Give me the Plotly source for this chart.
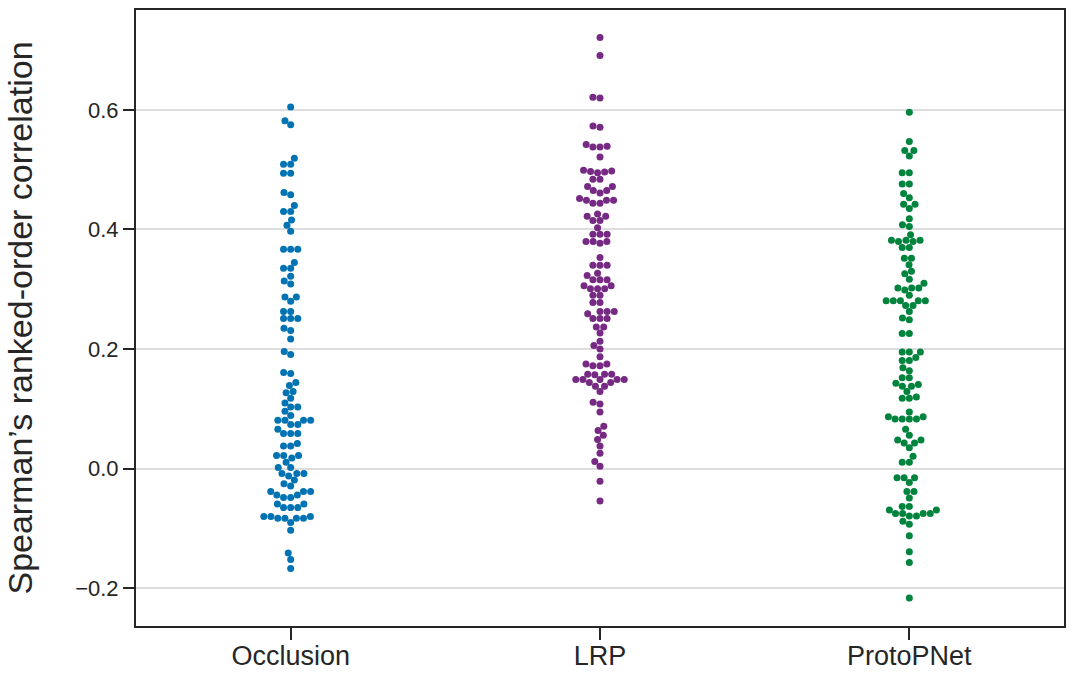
import numpy as np
import plotly.graph_objects as go

categories = ["Occlusion", "LRP", "ProtoPNet"]

occlusion = [0.605, 0.582, 0.575, 0.519, 0.509, 0.509, 0.494, 0.494, 0.462, 0.458,
             0.440, 0.430, 0.430, 0.416, 0.407, 0.397, 0.367, 0.367, 0.367, 0.345,
             0.335, 0.335, 0.322, 0.314, 0.309, 0.287, 0.287, 0.280, 0.263, 0.263,
             0.251, 0.251, 0.251, 0.235, 0.231, 0.217, 0.196, 0.191, 0.161, 0.159,
             0.144, 0.139, 0.129, 0.127, 0.118, 0.110, 0.103, 0.103, 0.096, 0.089,
             0.081, 0.081, 0.081, 0.081, 0.074, 0.074, 0.066, 0.059, 0.059, 0.059,
             0.042, 0.038, 0.038, 0.022, 0.022, 0.022, 0.018, 0.011, 0.002, 0.002,
             -0.008, -0.008, -0.008, -0.012, -0.019, -0.025, -0.029, -0.038, -0.038, -0.038,
             -0.044, -0.044, -0.048, -0.048, -0.059, -0.059, -0.065, -0.065, -0.065, -0.080,
             -0.080, -0.080, -0.083, -0.083, -0.083, -0.083, -0.090, -0.103, -0.141, -0.152,
             -0.167]

lrp = [0.721, 0.691, 0.621, 0.620, 0.573, 0.571, 0.542, 0.538, 0.538, 0.539,
       0.521, 0.499, 0.497, 0.496, 0.498, 0.495, 0.484, 0.484, 0.472, 0.472,
       0.465, 0.465, 0.461, 0.452, 0.449, 0.449, 0.449, 0.444, 0.444, 0.426,
       0.422, 0.422, 0.415, 0.415, 0.403, 0.392, 0.392, 0.392, 0.380, 0.380,
       0.380, 0.377, 0.353, 0.340, 0.340, 0.340, 0.327, 0.323, 0.316, 0.316,
       0.316, 0.306, 0.306, 0.301, 0.301, 0.301, 0.290, 0.290, 0.278, 0.278,
       0.263, 0.263, 0.263, 0.259, 0.251, 0.251, 0.251, 0.237, 0.237, 0.227,
       0.213, 0.206, 0.200, 0.187, 0.175, 0.175, 0.172, 0.172, 0.158, 0.158,
       0.158, 0.157, 0.149, 0.149, 0.149, 0.149, 0.149, 0.144, 0.144, 0.138,
       0.138, 0.129, 0.111, 0.108, 0.095, 0.071, 0.064, 0.056, 0.049, 0.038,
       0.026, 0.012, 0.004, -0.021, -0.054]

protopnet = [0.596, 0.547, 0.532, 0.532, 0.523, 0.495, 0.495, 0.476, 0.476, 0.460,
             0.453, 0.442, 0.442, 0.435, 0.418, 0.408, 0.405, 0.391, 0.382, 0.382,
             0.382, 0.380, 0.380, 0.370, 0.370, 0.352, 0.352, 0.341, 0.330, 0.326,
             0.317, 0.310, 0.302, 0.302, 0.302, 0.299, 0.290, 0.281, 0.281, 0.281,
             0.281, 0.281, 0.273, 0.273, 0.263, 0.252, 0.249, 0.226, 0.226, 0.195,
             0.195, 0.195, 0.186, 0.181, 0.181, 0.169, 0.164, 0.152, 0.152, 0.143,
             0.141, 0.138, 0.138, 0.129, 0.120, 0.118, 0.118, 0.095, 0.087, 0.087,
             0.083, 0.083, 0.083, 0.083, 0.066, 0.056, 0.048, 0.048, 0.043, 0.043,
             0.035, 0.021, 0.011, 0.011, -0.015, -0.015, -0.015, -0.023, -0.038, -0.038,
             -0.049, -0.063, -0.063, -0.069, -0.069, -0.075, -0.075, -0.075, -0.075, -0.079,
             -0.079, -0.088, -0.093, -0.112, -0.139, -0.157, -0.216]

colors = ["#0173b2", "#762a83", "#00843d"]
series = [occlusion, lrp, protopnet]

# figure geometry (pixels)
W, H = 1076, 679
ML, MR, MT, MB = 136, 10, 10, 53
Y_RANGE = [-0.263, 0.767]
X_RANGE = [-0.5, 2.5]
px_per_x = (W - ML - MR) / (X_RANGE[1] - X_RANGE[0])
px_per_y = (H - MT - MB) / (Y_RANGE[1] - Y_RANGE[0])
DIAM = 7.0


def beeswarm(values, d):
    """Seaborn-like swarm placement computed in pixel space."""
    vals = np.asarray(values, dtype=float)
    order = np.argsort(vals, kind="stable")
    placed = []
    xs_out = np.zeros(len(vals))
    for idx in order:
        y = vals[idx] * px_per_y
        neigh = [(px, py) for px, py in placed if abs(py - y) < d]
        cands = [0.0]
        left_first = True
        for px, py in neigh:
            dx = np.sqrt(max(d * d - (py - y) ** 2, 0.0)) * 1.02
            pair = [px - dx, px + dx] if left_first else [px + dx, px - dx]
            cands.extend(pair)
            left_first = not left_first
        cands = np.array(cands)
        cands = cands[np.argsort(np.abs(cands), kind="stable")]
        chosen = 0.0
        for c in cands:
            if all((c - px) ** 2 + (y - py) ** 2 >= d * d - 1e-6 for px, py in neigh):
                chosen = float(c)
                break
        placed.append((chosen, y))
        xs_out[idx] = chosen
    return xs_out / px_per_x


fig = go.Figure()
for i, (name, vals, col) in enumerate(zip(categories, series, colors)):
    offs = beeswarm(vals, DIAM)
    fig.add_trace(go.Scatter(
        x=i + offs, y=vals, mode="markers", name=name,
        marker=dict(color=col, size=DIAM, line=dict(width=0)),
        showlegend=False, hoverinfo="y",
    ))

axis_line = "#262626"
fig.update_layout(
    width=W, height=H,
    margin=dict(l=ML, r=MR, t=MT, b=MB),
    paper_bgcolor="white", plot_bgcolor="white",
    font=dict(family="Arial, Liberation Sans, sans-serif", color="#262626"),
    xaxis=dict(
        range=X_RANGE, tickmode="array", tickvals=[0, 1, 2], ticktext=categories,
        showgrid=False, zeroline=False, showline=True, linecolor=axis_line, linewidth=2,
        mirror=True, ticks="outside", ticklen=12, tickwidth=2, tickcolor=axis_line,
        tickfont=dict(size=27, color="#262626"), automargin=False,
        ticklabelstandoff=-7,
    ),
    yaxis=dict(
        range=Y_RANGE, tickmode="array", tickvals=[-0.2, 0.0, 0.2, 0.4, 0.6],
        ticktext=["\u22120.2", "0.0", "0.2", "0.4", "0.6"],
        showgrid=True, gridcolor="#dddddd", gridwidth=1.5, zeroline=False,
        showline=True, linecolor=axis_line, linewidth=2, mirror=True,
        ticks="outside", ticklen=11, tickwidth=2, tickcolor=axis_line,
        tickfont=dict(size=22, color="#262626"), automargin=True,
        title=dict(text="Spearman\u2019s ranked-order correlation",
                   font=dict(size=34, color="#262626"), standoff=32),
    ),
)

fig.write_html("out.html", config={"displayModeBar": False})

# remove the default page margin so the figure sits at the window origin
with open("out.html", "r", encoding="utf-8") as f:
    html = f.read()
html = html.replace("<head>", "<head><style>html,body{margin:0;padding:0;overflow:hidden;}</style>", 1)
with open("out.html", "w", encoding="utf-8") as f:
    f.write(html)
